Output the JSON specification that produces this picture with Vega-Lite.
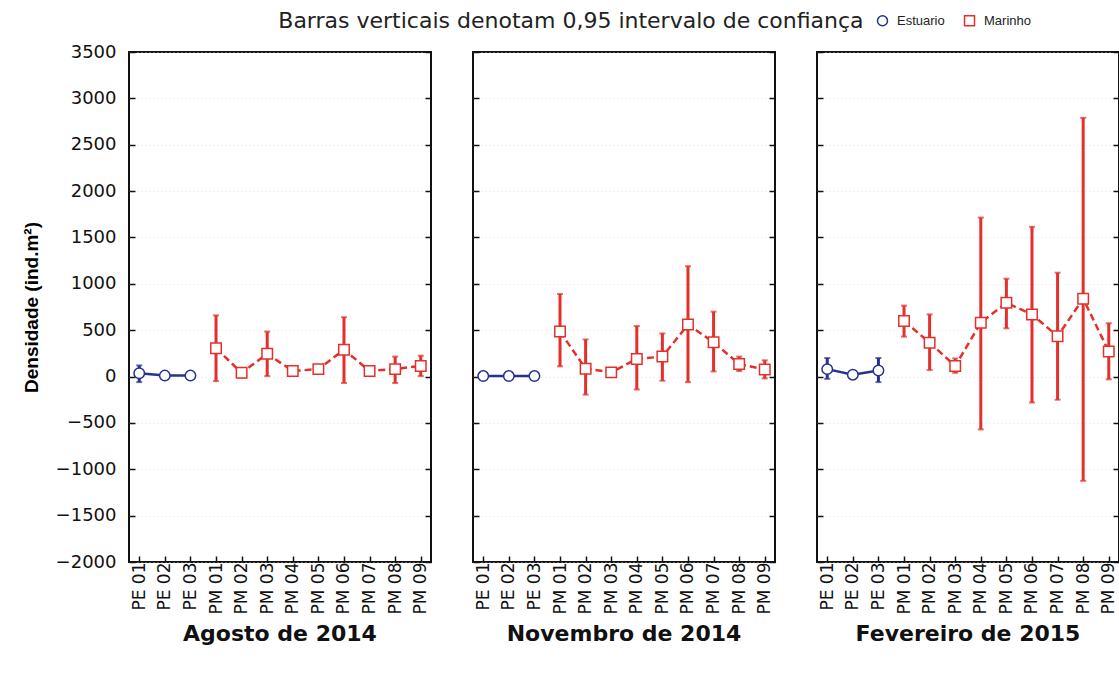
{
  "$schema": "https://vega.github.io/schema/vega-lite/v6.json",
  "background": "white",
  "padding": {"left": 21, "top": 10, "right": 0, "bottom": 0},
  "title": {"text": "Barras verticais denotam 0,95 intervalo de confiança", "font": "DejaVu Sans", "fontSize": 22, "fontWeight": "normal", "color": "#222", "anchor": "middle", "offset": -19},
  "config": {
    "font": "DejaVu Sans",
    "view": {"stroke": "#111", "strokeWidth": 2},
    "concat": {"spacing": 38},
    "axis": {"domain": false, "tickColor": "#111", "tickWidth": 1.5, "labelColor": "#111", "labelFont": "DejaVu Sans", "gridColor": "#d8d8d8", "gridDash": [1, 3], "gridOpacity": 0.7}
  },
  "datasets": {
    "d": [
      {"periodo": "Agosto de 2014", "ponto": "PE 01", "grupo": "Estuario", "media": 35, "lo": -60, "hi": 120},
      {"periodo": "Agosto de 2014", "ponto": "PE 02", "grupo": "Estuario", "media": 10, "lo": 0, "hi": 20},
      {"periodo": "Agosto de 2014", "ponto": "PE 03", "grupo": "Estuario", "media": 10, "lo": 0, "hi": 20},
      {"periodo": "Agosto de 2014", "ponto": "PM 01", "grupo": "Marinho", "media": 305, "lo": -50, "hi": 660},
      {"periodo": "Agosto de 2014", "ponto": "PM 02", "grupo": "Marinho", "media": 40, "lo": -10, "hi": 90},
      {"periodo": "Agosto de 2014", "ponto": "PM 03", "grupo": "Marinho", "media": 245, "lo": 5, "hi": 485},
      {"periodo": "Agosto de 2014", "ponto": "PM 04", "grupo": "Marinho", "media": 60, "lo": 40, "hi": 80},
      {"periodo": "Agosto de 2014", "ponto": "PM 05", "grupo": "Marinho", "media": 80, "lo": 60, "hi": 100},
      {"periodo": "Agosto de 2014", "ponto": "PM 06", "grupo": "Marinho", "media": 290, "lo": -70, "hi": 640},
      {"periodo": "Agosto de 2014", "ponto": "PM 07", "grupo": "Marinho", "media": 60, "lo": 40, "hi": 80},
      {"periodo": "Agosto de 2014", "ponto": "PM 08", "grupo": "Marinho", "media": 80, "lo": -70, "hi": 215},
      {"periodo": "Agosto de 2014", "ponto": "PM 09", "grupo": "Marinho", "media": 115, "lo": 5, "hi": 225},
      {"periodo": "Novembro de 2014", "ponto": "PE 01", "grupo": "Estuario", "media": 5, "lo": 0, "hi": 10},
      {"periodo": "Novembro de 2014", "ponto": "PE 02", "grupo": "Estuario", "media": 5, "lo": 0, "hi": 10},
      {"periodo": "Novembro de 2014", "ponto": "PE 03", "grupo": "Estuario", "media": 5, "lo": 0, "hi": 10},
      {"periodo": "Novembro de 2014", "ponto": "PM 01", "grupo": "Marinho", "media": 485, "lo": 110, "hi": 890},
      {"periodo": "Novembro de 2014", "ponto": "PM 02", "grupo": "Marinho", "media": 85, "lo": -195, "hi": 400},
      {"periodo": "Novembro de 2014", "ponto": "PM 03", "grupo": "Marinho", "media": 45, "lo": 25, "hi": 65},
      {"periodo": "Novembro de 2014", "ponto": "PM 04", "grupo": "Marinho", "media": 190, "lo": -140, "hi": 545},
      {"periodo": "Novembro de 2014", "ponto": "PM 05", "grupo": "Marinho", "media": 215, "lo": -45, "hi": 465},
      {"periodo": "Novembro de 2014", "ponto": "PM 06", "grupo": "Marinho", "media": 560, "lo": -60, "hi": 1190},
      {"periodo": "Novembro de 2014", "ponto": "PM 07", "grupo": "Marinho", "media": 370, "lo": 55, "hi": 700},
      {"periodo": "Novembro de 2014", "ponto": "PM 08", "grupo": "Marinho", "media": 135, "lo": 60, "hi": 215},
      {"periodo": "Novembro de 2014", "ponto": "PM 09", "grupo": "Marinho", "media": 75, "lo": -20, "hi": 175},
      {"periodo": "Fevereiro de 2015", "ponto": "PE 01", "grupo": "Estuario", "media": 80, "lo": -25, "hi": 200},
      {"periodo": "Fevereiro de 2015", "ponto": "PE 02", "grupo": "Estuario", "media": 20, "lo": 5, "hi": 35},
      {"periodo": "Fevereiro de 2015", "ponto": "PE 03", "grupo": "Estuario", "media": 65, "lo": -60, "hi": 200},
      {"periodo": "Fevereiro de 2015", "ponto": "PM 01", "grupo": "Marinho", "media": 600, "lo": 430, "hi": 765},
      {"periodo": "Fevereiro de 2015", "ponto": "PM 02", "grupo": "Marinho", "media": 365, "lo": 70, "hi": 670},
      {"periodo": "Fevereiro de 2015", "ponto": "PM 03", "grupo": "Marinho", "media": 115, "lo": 40, "hi": 195},
      {"periodo": "Fevereiro de 2015", "ponto": "PM 04", "grupo": "Marinho", "media": 580, "lo": -570, "hi": 1715},
      {"periodo": "Fevereiro de 2015", "ponto": "PM 05", "grupo": "Marinho", "media": 795, "lo": 520, "hi": 1055},
      {"periodo": "Fevereiro de 2015", "ponto": "PM 06", "grupo": "Marinho", "media": 670, "lo": -280, "hi": 1615},
      {"periodo": "Fevereiro de 2015", "ponto": "PM 07", "grupo": "Marinho", "media": 435, "lo": -250, "hi": 1120},
      {"periodo": "Fevereiro de 2015", "ponto": "PM 08", "grupo": "Marinho", "media": 840, "lo": -1125, "hi": 2790},
      {"periodo": "Fevereiro de 2015", "ponto": "PM 09", "grupo": "Marinho", "media": 270, "lo": -30, "hi": 575}
    ]
  },
  "data": {"name": "d"},
  "hconcat": [
    {
      "width": 302, "height": 510,
      "title": {"text": "Agosto de 2014", "orient": "bottom", "fontSize": 22, "fontWeight": "bold", "color": "#111", "offset": 10},
      "transform": [{"filter": "datum.periodo === 'Agosto de 2014'"}],
      "encoding": {
        "x": {"field": "ponto", "type": "ordinal", "sort": null, "scale": {"type": "point", "padding": 0.4}, "axis": {"title": null, "labelAngle": -90, "labelFontSize": 17, "tickSize": -6, "labelPadding": 6, "grid": false}}
      },
      "resolve": {"axis": {"y": "independent"}},
      "layer": [
        {"mark": {"type": "rule", "strokeWidth": 3}, "encoding": {"y": {"field": "lo", "type": "quantitative", "scale": {"domain": [-2000, 3500], "nice": false}, "axis": {"title": "Densidade (ind.m²)", "titleFontSize": 19, "titleFontWeight": "bold", "titleFont": "Liberation Sans", "titlePadding": 14, "labelFontSize": 18, "format": "d", "tickSize": -6, "labelPadding": 19, "values": [-2000, -1500, -1000, -500, 0, 500, 1000, 1500, 2000, 2500, 3000, 3500], "grid": true}}, "y2": {"field": "hi"}, "color": {"condition": {"test": "datum.grupo === 'Estuario'", "value": "#27328f"}, "value": "#e3302a"}}},
        {"mark": {"type": "tick", "thickness": 2, "size": 6}, "encoding": {"y": {"field": "lo", "type": "quantitative", "axis": null}, "color": {"condition": {"test": "datum.grupo === 'Estuario'", "value": "#27328f"}, "value": "#e3302a"}}},
        {"mark": {"type": "tick", "thickness": 2, "size": 6}, "encoding": {"y": {"field": "hi", "type": "quantitative", "axis": {"orient": "right", "title": null, "labels": false, "tickSize": -6, "grid": false, "values": [-2000, -1500, -1000, -500, 0, 500, 1000, 1500, 2000, 2500, 3000, 3500]}}, "color": {"condition": {"test": "datum.grupo === 'Estuario'", "value": "#27328f"}, "value": "#e3302a"}}},
        {"transform": [{"filter": "datum.grupo === 'Estuario'"}], "mark": {"type": "line", "strokeWidth": 2.5, "color": "#27328f"}, "encoding": {"y": {"field": "media", "type": "quantitative", "axis": null}}},
        {"transform": [{"filter": "datum.grupo === 'Marinho'"}], "mark": {"type": "line", "strokeWidth": 2.5, "strokeDash": [7, 4], "color": "#e3302a"}, "encoding": {"y": {"field": "media", "type": "quantitative", "axis": null}}},
        {"mark": {"type": "point", "filled": false, "fill": "white", "fillOpacity": 1, "strokeWidth": 1.5, "size": 110, "opacity": 1}, "encoding": {"y": {"field": "media", "type": "quantitative", "axis": null}, "shape": {"field": "grupo", "type": "nominal", "scale": {"domain": ["Estuario", "Marinho"], "range": ["circle", "square"]}}, "color": {"field": "grupo", "type": "nominal", "scale": {"domain": ["Estuario", "Marinho"], "range": ["#27328f", "#e3302a"]}, "legend": {"title": null, "orient": "none", "direction": "horizontal", "legendX": 747, "legendY": -38, "labelFontSize": 13, "labelFont": "Liberation Sans", "labelColor": "#222", "symbolSize": 100, "symbolStrokeWidth": 1.5, "symbolOpacity": 1, "symbolFillColor": "white", "columnPadding": 16, "labelOffset": 8}}}}
      ]
    },
    {
      "width": 302, "height": 510,
      "title": {"text": "Novembro de 2014", "orient": "bottom", "fontSize": 22, "fontWeight": "bold", "color": "#111", "offset": 10},
      "transform": [{"filter": "datum.periodo === 'Novembro de 2014'"}],
      "encoding": {
        "x": {"field": "ponto", "type": "ordinal", "sort": null, "scale": {"type": "point", "padding": 0.4}, "axis": {"title": null, "labelAngle": -90, "labelFontSize": 17, "tickSize": -6, "labelPadding": 6, "grid": false}}
      },
      "resolve": {"axis": {"y": "independent"}},
      "layer": [
        {"mark": {"type": "rule", "strokeWidth": 3}, "encoding": {"y": {"field": "lo", "type": "quantitative", "scale": {"domain": [-2000, 3500], "nice": false}, "axis": {"title": null, "labels": false, "tickSize": -6, "values": [-2000, -1500, -1000, -500, 0, 500, 1000, 1500, 2000, 2500, 3000, 3500], "grid": true}}, "y2": {"field": "hi"}, "color": {"condition": {"test": "datum.grupo === 'Estuario'", "value": "#27328f"}, "value": "#e3302a"}}},
        {"mark": {"type": "tick", "thickness": 2, "size": 6}, "encoding": {"y": {"field": "lo", "type": "quantitative", "axis": null}, "color": {"condition": {"test": "datum.grupo === 'Estuario'", "value": "#27328f"}, "value": "#e3302a"}}},
        {"mark": {"type": "tick", "thickness": 2, "size": 6}, "encoding": {"y": {"field": "hi", "type": "quantitative", "axis": {"orient": "right", "title": null, "labels": false, "tickSize": -6, "grid": false, "values": [-2000, -1500, -1000, -500, 0, 500, 1000, 1500, 2000, 2500, 3000, 3500]}}, "color": {"condition": {"test": "datum.grupo === 'Estuario'", "value": "#27328f"}, "value": "#e3302a"}}},
        {"transform": [{"filter": "datum.grupo === 'Estuario'"}], "mark": {"type": "line", "strokeWidth": 2.5, "color": "#27328f"}, "encoding": {"y": {"field": "media", "type": "quantitative", "axis": null}}},
        {"transform": [{"filter": "datum.grupo === 'Marinho'"}], "mark": {"type": "line", "strokeWidth": 2.5, "strokeDash": [7, 4], "color": "#e3302a"}, "encoding": {"y": {"field": "media", "type": "quantitative", "axis": null}}},
        {"mark": {"type": "point", "filled": false, "fill": "white", "fillOpacity": 1, "strokeWidth": 1.5, "size": 110, "opacity": 1}, "encoding": {"y": {"field": "media", "type": "quantitative", "axis": null}, "shape": {"field": "grupo", "type": "nominal"}, "color": {"field": "grupo", "type": "nominal"}}}
      ]
    },
    {
      "width": 302, "height": 510,
      "title": {"text": "Fevereiro de 2015", "orient": "bottom", "fontSize": 22, "fontWeight": "bold", "color": "#111", "offset": 10},
      "transform": [{"filter": "datum.periodo === 'Fevereiro de 2015'"}],
      "encoding": {
        "x": {"field": "ponto", "type": "ordinal", "sort": null, "scale": {"type": "point", "padding": 0.4}, "axis": {"title": null, "labelAngle": -90, "labelFontSize": 17, "tickSize": -6, "labelPadding": 6, "grid": false}}
      },
      "resolve": {"axis": {"y": "independent"}},
      "layer": [
        {"mark": {"type": "rule", "strokeWidth": 3}, "encoding": {"y": {"field": "lo", "type": "quantitative", "scale": {"domain": [-2000, 3500], "nice": false}, "axis": {"title": null, "labels": false, "tickSize": -6, "values": [-2000, -1500, -1000, -500, 0, 500, 1000, 1500, 2000, 2500, 3000, 3500], "grid": true}}, "y2": {"field": "hi"}, "color": {"condition": {"test": "datum.grupo === 'Estuario'", "value": "#27328f"}, "value": "#e3302a"}}},
        {"mark": {"type": "tick", "thickness": 2, "size": 6}, "encoding": {"y": {"field": "lo", "type": "quantitative", "axis": null}, "color": {"condition": {"test": "datum.grupo === 'Estuario'", "value": "#27328f"}, "value": "#e3302a"}}},
        {"mark": {"type": "tick", "thickness": 2, "size": 6}, "encoding": {"y": {"field": "hi", "type": "quantitative", "axis": {"orient": "right", "title": null, "labels": false, "tickSize": -6, "grid": false, "values": [-2000, -1500, -1000, -500, 0, 500, 1000, 1500, 2000, 2500, 3000, 3500]}}, "color": {"condition": {"test": "datum.grupo === 'Estuario'", "value": "#27328f"}, "value": "#e3302a"}}},
        {"transform": [{"filter": "datum.grupo === 'Estuario'"}], "mark": {"type": "line", "strokeWidth": 2.5, "color": "#27328f"}, "encoding": {"y": {"field": "media", "type": "quantitative", "axis": null}}},
        {"transform": [{"filter": "datum.grupo === 'Marinho'"}], "mark": {"type": "line", "strokeWidth": 2.5, "strokeDash": [7, 4], "color": "#e3302a"}, "encoding": {"y": {"field": "media", "type": "quantitative", "axis": null}}},
        {"mark": {"type": "point", "filled": false, "fill": "white", "fillOpacity": 1, "strokeWidth": 1.5, "size": 110, "opacity": 1}, "encoding": {"y": {"field": "media", "type": "quantitative", "axis": null}, "shape": {"field": "grupo", "type": "nominal"}, "color": {"field": "grupo", "type": "nominal"}}}
      ]
    }
  ]
}
